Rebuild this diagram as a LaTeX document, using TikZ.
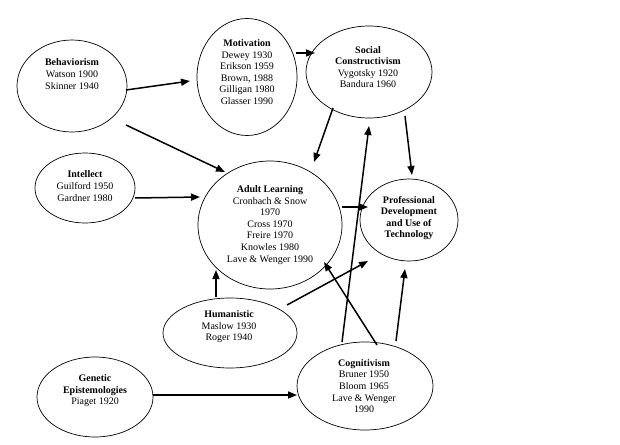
\documentclass[tikz,border=0pt]{standalone}
\usepackage{fontspec}
\setmainfont{Liberation Serif}
\usetikzlibrary{shapes.geometric,arrows.meta,calc}

\tikzset{
  bubble/.style={draw, ellipse, line width=0.7pt, inner sep=0pt},
  lbl/.style={align=center, inner sep=0pt, font=\fontsize{10}{11.6}\selectfont},
  link/.style={line width=1.5pt, -{Triangle[length=9pt,width=7pt]}},
}

\begin{document}
\begin{tikzpicture}[x=1pt, y=-1pt]
  \fill[white] (0,0) rectangle (620,444);
  \useasboundingbox (0,0) rectangle (620,444);

  % theory bubbles
  \node[bubble, minimum width=110pt, minimum height=92pt]  (beh)   at (72,86)   {};
  \node[bubble, minimum width=100pt, minimum height=117pt] (mot)   at (247,77)  {};
  \node[bubble, minimum width=126pt, minimum height=92pt]  (soc)   at (369,72)  {};
  \node[bubble, minimum width=100pt, minimum height=70pt]  (int)   at (85,188)  {};
  \node[bubble, minimum width=144pt, minimum height=128pt] (adult) at (270,225) {};
  \node[bubble, minimum width=98pt,  minimum height=82pt]  (prof)  at (409,220) {};
  \node[bubble, minimum width=134pt, minimum height=70pt]  (hum)   at (230,333) {};
  \node[bubble, minimum width=116pt, minimum height=80pt]  (gen)   at (95,397)  {};
  \node[bubble, minimum width=136pt, minimum height=88pt]  (cog)   at (365,386) {};

  % bubble texts
  \node[lbl] (beh-t)   at (72,74)    {\textbf{Behaviorism}\\Watson 1900\\Skinner 1940};
  \node[lbl] (mot-t)   at (247,72)   {\textbf{Motivation}\\Dewey 1930\\Erikson 1959\\Brown, 1988\\Gilligan 1980\\Glasser 1990};
  \node[lbl] (soc-t)   at (368,67)   {\textbf{Social}\\\textbf{Constructivism}\\Vygotsky 1920\\Bandura 1960};
  \node[lbl] (int-t)   at (85,186)   {\textbf{Intellect}\\Guilford 1950\\Gardner 1980};
  \node[lbl] (adult-t) at (270,225)  {\textbf{Adult Learning}\\Cronbach \& Snow\\1970\\Cross 1970\\Freire 1970\\Knowles 1980\\Lave \& Wenger 1990};
  \node[lbl] (prof-t)  at (409,218)  {\textbf{Professional}\\\textbf{Development}\\\textbf{and Use of}\\\textbf{Technology}};
  \node[lbl] (hum-t)   at (229,327)  {\textbf{Humanistic}\\Maslow 1930\\Roger 1940};
  \node[lbl] (gen-t)   at (95,391)   {\textbf{Genetic}\\\textbf{Epistemologies}\\Piaget 1920};
  \node[lbl] (cog-t)   at (364,386)  {\textbf{Cognitivism}\\Bruner 1950\\Bloom 1965\\Lave \& Wenger\\1990};

  % influences
  \draw[link] ($(beh)+(54,4)$)    -- ($(mot)+(-57,4)$);
  \draw[link] ($(mot)+(49,-24)$)  -- ($(soc)+(-54,-19)$);
  \draw[link] ($(beh)+(54,39)$)   -- ($(adult)+(-45,-53)$);
  \draw[link] ($(int)+(50,10)$)   -- ($(adult)+(-70,-28)$);
  \draw[link] ($(soc)+(-36,36)$)  -- ($(adult)+(44,-63)$);
  \draw[link] ($(soc)+(36,44)$)   -- ($(prof)+(3,-45)$);
  \draw[link] ($(adult)+(72,-18)$) -- ($(prof)+(-41,-13)$);
  \draw[link] ($(hum)+(-14,-36)$) -- ($(adult)+(-54,45)$);
  \draw[link] ($(hum)+(57,-28)$)  -- ($(prof)+(-41,41)$);
  \draw[link] ($(cog)+(-23,-44)$) -- ($(soc)+(0,54)$);
  \draw[link] ($(cog)+(12,-41)$)  -- ($(adult)+(54,37)$);
  \draw[link] ($(cog)+(31,-45)$)  -- ($(prof)+(-4,49)$);
  \draw[link] ($(gen)+(58,-2)$)   -- ($(cog)+(-68,9)$);
\end{tikzpicture}
\end{document}
